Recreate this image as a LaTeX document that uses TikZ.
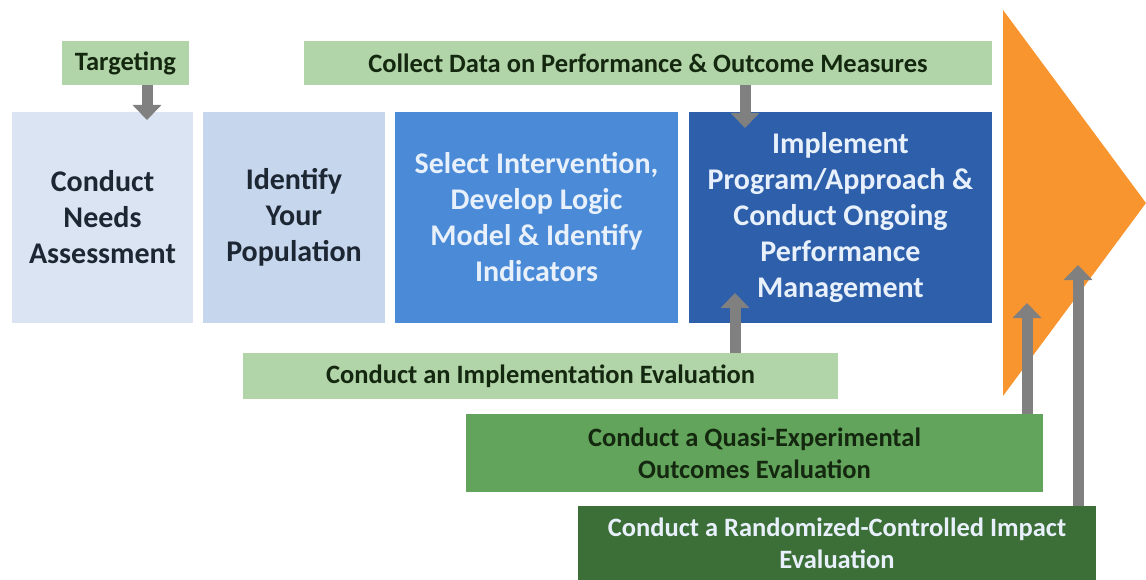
\documentclass[tikz,border=0pt]{standalone}
\usepackage{fontspec}
\setmainfont{Carlito}
\usepackage{tikz}
\usetikzlibrary{arrows.meta}

\definecolor{needsblue}{HTML}{DAE4F3}
\definecolor{populblue}{HTML}{C6D6EC}
\definecolor{selectblue}{HTML}{4A8AD6}
\definecolor{implementblue}{HTML}{2D5FAA}
\definecolor{bandgreen}{HTML}{B2D4A9}
\definecolor{quasigreen}{HTML}{62A45B}
\definecolor{rctgreen}{HTML}{3C6E37}
\definecolor{phaseorange}{HTML}{F8952F}
\definecolor{arrowgray}{HTML}{808080}
\definecolor{darktext}{HTML}{1D2633}
\definecolor{greentext}{HTML}{14280F}
\definecolor{lighttext}{HTML}{E8F1FB}

\begin{document}
\begin{tikzpicture}[x=1pt, y=-1pt,
    box/.style={inner sep=0pt, outer sep=0pt, align=center,
        font=\bfseries\fontsize{30}{36}\selectfont},
    band/.style={box, text=greentext, font=\bfseries\fontsize{26.5}{32}\selectfont},
    blockarrow/.style={draw=arrowgray, line width=11pt,
        -{Triangle[width=28pt, length=15pt]}}]
    \useasboundingbox (0, 0) rectangle (1146, 580);

    % Big arrow on the right
    \fill[phaseorange] (1003, 10) -- (1146, 203) -- (1003, 396) -- cycle;

    % Steps
    \node[box, fill=needsblue, text=darktext, minimum width=181pt, minimum height=211pt]
        (needs) at (102.5, 217.5) {Conduct\\Needs\\Assessment};
    \node[box, fill=populblue, text=darktext, minimum width=182pt, minimum height=211pt]
        (popul) at (294, 217.5) {Identify\\Your\\Population};
    \node[box, fill=selectblue, text=lighttext, minimum width=283pt, minimum height=211pt]
        (select) at (536.5, 217.5) {Select Intervention,\\Develop Logic\\Model \& Identify\\Indicators};
    \node[box, fill=implementblue, text=lighttext, minimum width=303pt, minimum height=211pt]
        (implement) at (840.5, 217.5) {Implement\\Program/Approach \&\\Conduct Ongoing\\Performance\\Management};

    % Bands above
    \node[band, fill=bandgreen, minimum width=127pt, minimum height=44pt]
        (targ) at (125.5, 63) {Targeting};
    \node[band, fill=bandgreen, minimum width=688pt, minimum height=44pt]
        (collect) at (648, 63) {Collect Data on Performance \& Outcome Measures};

    % Bands below
    \node[band, fill=bandgreen, minimum width=595pt, minimum height=46pt]
        (impleval) at (540.5, 376) {Conduct an Implementation Evaluation};
    \node[band, fill=quasigreen, minimum width=577pt, minimum height=78pt]
        (quasi) at (754.5, 453) {Conduct a Quasi-Experimental\\Outcomes Evaluation};
    \node[band, fill=rctgreen, text=lighttext, minimum width=518pt, minimum height=74pt]
        (rct) at (837, 543) {Conduct a Randomized-Controlled Impact\\Evaluation};

    % Arrow tips
    \coordinate (needstip) at (147, 120);
    \coordinate (implementtop) at (745, 128);
    \coordinate (implementbot) at (735, 293);
    \coordinate (quasitip) at (1027, 303);
    \coordinate (rcttip) at (1078, 265);

    \draw[blockarrow] (targ.south -| needstip) -- (needstip);
    \draw[blockarrow] (collect.south -| implementtop) -- (implementtop);
    \draw[blockarrow] (impleval.north -| implementbot) -- (implementbot);
    \draw[blockarrow] (quasi.north -| quasitip) -- (quasitip);
    \draw[blockarrow] (rct.north -| rcttip) -- (rcttip);
\end{tikzpicture}
\end{document}
